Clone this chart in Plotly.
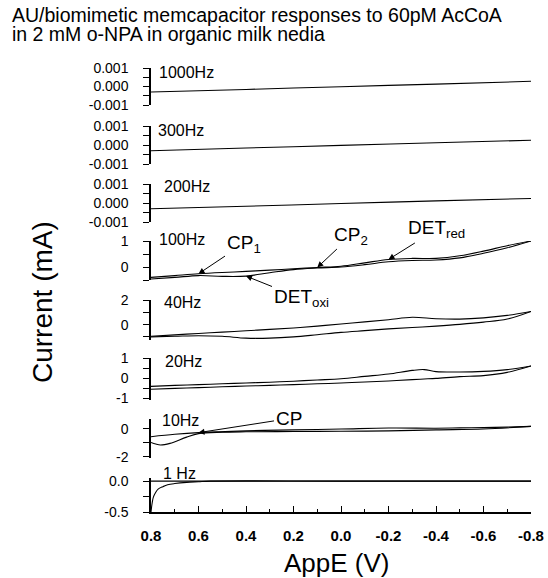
import plotly.graph_objects as go

# ---------------- data ----------------
freq_labels = ["1000Hz", "300Hz", "200Hz", "100Hz", "40Hz", "20Hz", "10Hz", "1 Hz"]

x_ticks = [0.8, 0.6, 0.4, 0.2, 0.0, -0.2, -0.4, -0.6, -0.8]
x_ticktext = ["0.8", "0.6", "0.4", "0.2", "0.0", "-0.2", "-0.4", "-0.6", "-0.8"]

# 1000 Hz, 300 Hz, 200 Hz: nearly straight lines (mA)
x_hf = [0.8, 0.4, 0.0, -0.4, -0.8]
i_1000 = [-0.00030, -0.00016, -0.00001, 0.00013, 0.00028]
i_300 = [-0.00030, -0.00016, -0.00002, 0.00012, 0.00025]
i_200 = [-0.00030, -0.00017, -0.00003, 0.00011, 0.00024]

# 100 Hz loop
x_100 = [0.8, 0.7, 0.6, 0.5, 0.4, 0.3, 0.2, 0.1, 0.0, -0.1, -0.2, -0.3, -0.4, -0.5, -0.6, -0.7, -0.8]
i_100_up = [-0.40, -0.33, -0.26, -0.21, -0.17, -0.12, -0.07, -0.02, 0.03, 0.16, 0.29, 0.33, 0.33, 0.43, 0.61, 0.82, 1.0]
i_100_dn = [-0.46, -0.40, -0.33, -0.36, -0.35, -0.22, -0.10, -0.04, 0.0, 0.09, 0.20, 0.25, 0.27, 0.35, 0.53, 0.74, 1.0]

# 40 Hz loop
x_40 = [0.8, 0.7, 0.6, 0.5, 0.4, 0.3, 0.2, 0.1, 0.0, -0.1, -0.2, -0.3, -0.4, -0.5, -0.6, -0.7, -0.8]
i_40_up = [-0.94, -0.83, -0.72, -0.61, -0.50, -0.39, -0.27, -0.12, 0.05, 0.22, 0.40, 0.60, 0.48, 0.45, 0.55, 0.75, 1.07]
i_40_dn = [-1.00, -0.95, -0.90, -0.95, -1.10, -1.10, -1.00, -0.82, -0.63, -0.49, -0.35, -0.24, -0.12, 0.02, 0.20, 0.45, 1.07]

# 20 Hz loop
x_20 = [0.8, 0.7, 0.6, 0.5, 0.4, 0.3, 0.2, 0.1, 0.0, -0.1, -0.2, -0.3, -0.35, -0.4, -0.5, -0.6, -0.7, -0.8]
i_20_up = [-0.42, -0.37, -0.33, -0.29, -0.25, -0.21, -0.16, -0.10, -0.04, 0.08, 0.20, 0.38, 0.42, 0.32, 0.30, 0.33, 0.42, 0.60]
i_20_dn = [-0.56, -0.52, -0.48, -0.44, -0.40, -0.37, -0.33, -0.29, -0.25, -0.20, -0.15, -0.08, -0.05, -0.02, 0.07, 0.12, 0.28, 0.60]

# 10 Hz loop
x_10_up = [0.8, 0.7, 0.6, 0.4, 0.2, 0.0, -0.2, -0.4, -0.5, -0.6, -0.7, -0.8]
i_10_up = [-0.57, -0.40, -0.28, -0.15, -0.08, -0.02, 0.05, 0.04, 0.06, 0.08, 0.12, 0.17]
x_10_dn = [0.8, 0.78, 0.76, 0.72, 0.65, 0.6, 0.5, 0.4, 0.2, 0.0, -0.2, -0.4, -0.6, -0.8]
i_10_dn = [-0.98, -1.10, -1.17, -1.05, -0.60, -0.35, -0.25, -0.22, -0.20, -0.18, -0.15, -0.08, -0.02, 0.17]

# 1 Hz
x_1_a = [0.8, 0.795, 0.79, 0.78, 0.77, 0.75, 0.73, 0.70, 0.65, 0.60, 0.55, 0.0, -0.8]
i_1_a = [-0.50, -0.35, -0.26, -0.18, -0.13, -0.09, -0.06, -0.04, -0.02, -0.01, 0.0, 0.0, 0.0]
x_1_b = [0.8, 0.0, -0.8]
i_1_b = [0.0, 0.0, 0.0]

title_lines = ["AU/biomimetic memcapacitor responses to 60pM AcCoA",
               "in 2 mM o-NPA in organic milk nedia"]

# ---------------- layout geometry ----------------
W, H = 548, 578
L, R = 151, 17
PLOT_W = W - L - R

def fy(py):
    return 1 - py / H

def fx(px):
    return (px - L) / PLOT_W

panels = [
    dict(name="y", top=478, bot=512, rng=[-0.5, 0.05], tv=[-0.5, 0.0], tt=["-0.5", "0.0"], minor=0.25),
    dict(name="y2", top=419, bot=458, rng=[-2.1, 0.7], tv=[-2, 0], tt=["-2", "0"], minor=1),
    dict(name="y3", top=358, bot=400, rng=[-1.1, 1.0], tv=[-1, 0, 1], tt=["-1", "0", "1"], minor=0.5),
    dict(name="y4", top=300, bot=340, rng=[-1.25, 2.0], tv=[0, 2], tt=["0", "2"], minor=1),
    dict(name="y5", top=241, bot=280, rng=[-0.5, 1.0], tv=[0, 1], tt=["0", "1"], minor=0.5),
    dict(name="y6", top=184, bot=222, rng=[-0.001, 0.001], tv=[-0.001, 0, 0.001], tt=["-0.001", "0.000", "0.001"], minor=0.0005),
    dict(name="y7", top=126, bot=164, rng=[-0.001, 0.001], tv=[-0.001, 0, 0.001], tt=["-0.001", "0.000", "0.001"], minor=0.0005),
    dict(name="y8", top=68, bot=105, rng=[-0.001, 0.001], tv=[-0.001, 0, 0.001], tt=["-0.001", "0.000", "0.001"], minor=0.0005),
]

FONT = "Liberation Sans, Arial, sans-serif"
line = dict(color="black", width=1.1)

fig = go.Figure()

def add(x, y, ax):
    fig.add_trace(go.Scatter(x=x, y=y, xaxis="x", yaxis=ax, mode="lines",
                             line=line, line_shape="spline", showlegend=False,
                             hoverinfo="skip"))

add(x_1_a, i_1_a, "y")
add(x_1_b, i_1_b, "y")
add(x_10_up, i_10_up, "y2")
add(x_10_dn, i_10_dn, "y2")
add(x_20, i_20_up, "y3")
add(x_20, i_20_dn, "y3")
add(x_40, i_40_up, "y4")
add(x_40, i_40_dn, "y4")
add(x_100, i_100_up, "y5")
add(x_100, i_100_dn, "y5")
add(x_hf, i_200, "y6")
add(x_hf, i_300, "y7")
add(x_hf, i_1000, "y8")

layout = dict(
    width=W, height=H,
    margin=dict(l=L, r=R, t=0, b=0, pad=0),
    paper_bgcolor="white", plot_bgcolor="white",
    font=dict(family=FONT, color="black"),
    showlegend=False,
    xaxis=dict(
        domain=[0, 1], anchor="y", range=[0.8, -0.8],
        tickmode="array", tickvals=x_ticks, ticktext=x_ticktext,
        ticks="inside", ticklen=6, tickwidth=1.3, tickcolor="black",
        minor=dict(dtick=0.1, tick0=0, ticks="inside", ticklen=3, tickwidth=1.3, tickcolor="black"),
        showline=True, linecolor="black", linewidth=1.5,
        showgrid=False, zeroline=False, automargin=False,
        tickfont=dict(size=15, weight="bold", family=FONT),
        ticklabelstandoff=9,
    ),
)

for p in panels:
    key = "yaxis" if p["name"] == "y" else "yaxis" + p["name"][1:]
    layout[key] = dict(
        domain=[fy(p["bot"]), fy(p["top"])], anchor="x", range=p["rng"],
        tickmode="array", tickvals=p["tv"], ticktext=p["tt"],
        ticks="outside", ticklen=6, tickwidth=1.3, tickcolor="black",
        minor=dict(dtick=p["minor"], tick0=0, ticks="outside", ticklen=6, tickwidth=1.3, tickcolor="black"),
        showline=True, linecolor="black", linewidth=1.5,
        showgrid=False, zeroline=False, automargin=False,
        tickfont=dict(size=14, family=FONT),
        ticklabelstandoff=12,
    )

fig.update_layout(**layout)

annotations = []
hz_pos = [(157, 72), (156, 130), (162, 187), (157, 240), (162, 302), (163, 361), (160, 421), (161, 473)]
for lab, (px, py) in zip(freq_labels, hz_pos):
    annotations.append(dict(text=lab, xref="paper", yref="paper", x=fx(px), y=fy(py),
                            xanchor="left", yanchor="middle", showarrow=False,
                            font=dict(size=16, family=FONT)))

# title (two lines)
for txt, py in zip(title_lines, [15, 34]):
    annotations.append(dict(text=txt, xref="paper", yref="paper", x=fx(10), y=fy(py),
                            xanchor="left", yanchor="middle", showarrow=False,
                            font=dict(size=19.5, family=FONT)))
# axis titles
annotations.append(dict(text="Current (mA)", xref="paper", yref="paper", x=fx(42), y=fy(302),
                        xanchor="center", yanchor="middle",
                        textangle=-90, showarrow=False, font=dict(size=28, family=FONT)))
annotations.append(dict(text="AppE (V)", xref="paper", yref="paper", x=fx(337), y=fy(563),
                        xanchor="center", yanchor="middle",
                        showarrow=False, font=dict(size=26, family=FONT)))

arrow_style = dict(showarrow=True, arrowhead=2, arrowsize=1.2, arrowwidth=1, arrowcolor="black",
                   font=dict(size=19, family=FONT))
annotations.append(dict(text="CP<sub>1</sub>", xref="x", yref="y5", x=x_100[2], y=i_100_up[2],
                        ax=45, ay=-30, **arrow_style))
annotations.append(dict(text="CP<sub>2</sub>", xref="x", yref="y5", x=x_100[7], y=i_100_up[7],
                        ax=34, ay=-32, **arrow_style))
annotations.append(dict(text="DET<sub>red</sub>", xref="x", yref="y5", x=x_100[10], y=i_100_up[10],
                        ax=48, ay=-30, **arrow_style))
annotations.append(dict(text="DET<sub>oxi</sub>", xref="x", yref="y5", x=x_100[4], y=i_100_dn[4],
                        ax=55, ay=22, **arrow_style))
annotations.append(dict(text="CP", xref="x", yref="y2", x=x_10_up[2], y=i_10_up[2],
                        ax=90, ay=-14, **arrow_style))

fig.update_layout(annotations=annotations)
fig.write_html("out.html")
